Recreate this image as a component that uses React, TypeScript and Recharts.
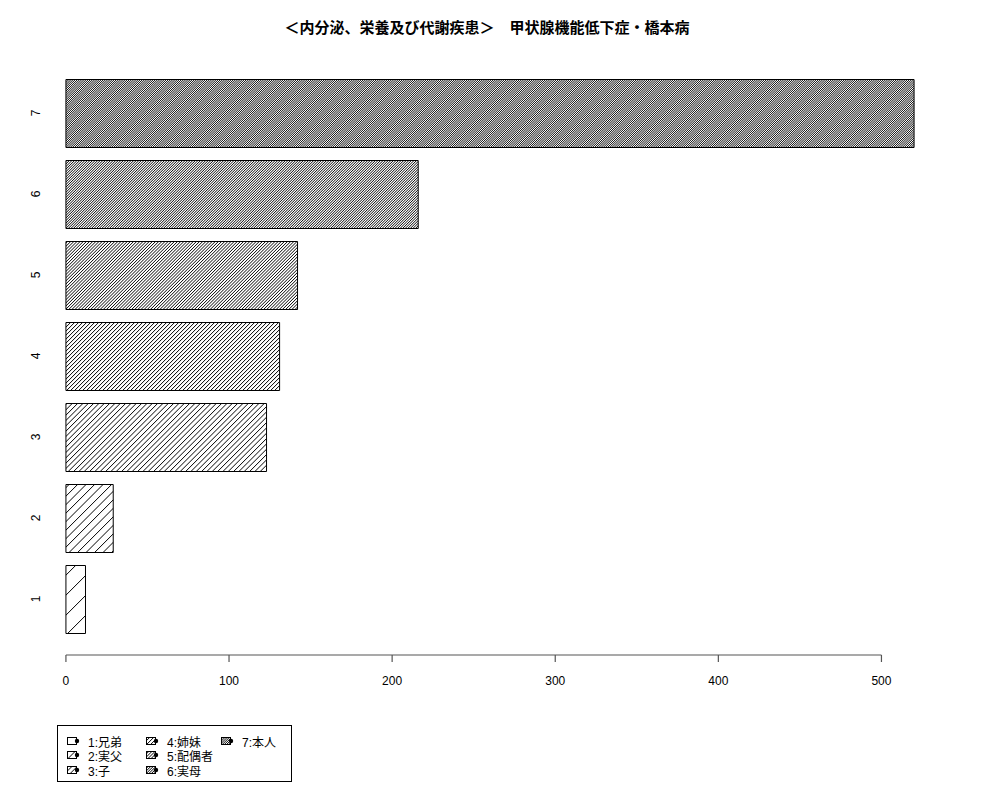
import { BarChart, Bar, XAxis, YAxis, Legend, ReferenceLine, Cell } from "recharts";

const categories = ["1", "2", "3", "4", "5", "6", "7"];
const counts = [12, 29, 123, 131, 142, 216, 520];
const legendLabels = ["1:兄弟", "2:実父", "3:子", "4:姉妹", "5:配偶者", "6:実母", "7:本人"];
// hatch density (lines per inch), as in R's barplot(density = ...)
const densities = [5, 12, 19, 26, 33, 40, 47];
const xTicks = [0, 100, 200, 300, 400, 500];
const title = "＜内分泌、栄養及び代謝疾患＞　甲状腺機能低下症・橋本病";

const data = categories.map((c, i) => ({ name: c, value: counts[i] }));
const maxCount = Math.max(...counts);
const xDomain = [-0.04 * maxCount, 1.04 * maxCount];

const FONT = "'Liberation Sans', Arial, 'Noto Sans CJK JP', sans-serif";
const LINE_W = 1.1; // horizontal width of a hatch line, px
const INK = 0.9;

// integer tile holding k lines, period close to 72*sqrt2/density
function tileFor(density: number) {
  const p = (72 * Math.SQRT2) / density;
  let best = { w: Math.round(p), k: 1, err: Math.abs(Math.round(p) - p) };
  for (let k = 2; k <= 8; k++) {
    const w = Math.round(k * p);
    if (w > 24) break;
    const err = Math.abs(w / k - p);
    if (err < best.err - 0.01) best = { w, k, err };
  }
  return best;
}

// coverage of pixel diagonal t (x+y = t mod w) by k evenly spaced lines, antialiased by hand
function diagShades(w: number, k: number) {
  const period = w / k;
  const shades: number[] = [];
  for (let t = 0; t < w; t++) {
    let cov = 0;
    for (let j = 0; j < k; j++) {
      const a = j * period;
      for (const shift of [0, w, -w]) {
        const s = a + shift;
        cov += Math.max(0, Math.min(t + 1, s + LINE_W) - Math.max(t, s));
      }
    }
    shades.push(Math.min(1, cov));
  }
  return shades;
}

function HatchDefs() {
  return (
    <defs>
      {densities.map((d, i) => {
        const { w, k } = tileFor(d);
        const shades = diagShades(w, k);
        const px: JSX.Element[] = [];
        for (let x = 0; x < w; x++) {
          for (let y = 0; y < w; y++) {
            const c = shades[(x + y) % w];
            if (c <= 0) continue;
            const g = Math.round(255 * (1 - c * INK));
            px.push(<rect key={`${x}-${y}`} x={x} y={y} width={1} height={1} fill={`rgb(${g},${g},${g})`} />);
          }
        }
        return (
          <pattern key={i} id={`hatch${i}`} patternUnits="userSpaceOnUse" x={0} y={0} width={w} height={w}>
            <rect width={w} height={w} fill="#fff" />
            <g shapeRendering="crispEdges">{px}</g>
          </pattern>
        );
      })}
    </defs>
  );
}

function YTick({ y, payload }: any) {
  return (
    <text
      x={40}
      y={y}
      transform={`rotate(-90, 40, ${y})`}
      textAnchor="middle"
      fontSize={12}
      fontFamily={FONT}
      fill="#000"
    >
      {payload.value}
    </text>
  );
}

function LegendBox() {
  const cols = [10, 89, 164];
  const rows = [15, 29, 44];
  return (
    <div
      style={{
        position: "relative",
        width: 235,
        height: 57,
        border: "1px solid #000",
        boxSizing: "border-box",
        background: "#fff",
        fontFamily: FONT,
        fontSize: 12,
        color: "#000",
      }}
    >
      {legendLabels.map((label, i) => {
        const col = Math.floor(i / 3);
        const row = i % 3;
        return (
          <div
            key={label}
            style={{
              position: "absolute",
              left: cols[col] - 1,
              top: rows[row] - 8,
              height: 16,
              display: "flex",
              alignItems: "center",
              whiteSpace: "nowrap",
            }}
          >
            <svg width={14} height={10} style={{ marginRight: 7 }}>
              <rect x={0.5} y={1.5} width={9} height={7} fill={`url(#hatch${i})`} stroke="#000" strokeWidth={1} />
              <circle cx={10} cy={5} r={2.2} fill="#000" />
            </svg>
            <span>{label}</span>
          </div>
        );
      })}
    </div>
  );
}

export default function App() {
  return (
    <div style={{ position: "absolute", left: 0, top: 0, width: 1000, height: 800, background: "#fff" }}>
      <div
        style={{
          position: "absolute",
          left: 487,
          top: 18,
          transform: "translateX(-50%)",
          whiteSpace: "nowrap",
          fontFamily: "'Noto Sans CJK JP', sans-serif",
          fontWeight: "bold",
          fontSize: 15,
          lineHeight: "17px",
          color: "#000",
        }}
      >
        {title}
      </div>
      <BarChart
        width={1000}
        height={800}
        data={data}
        layout="vertical"
        margin={{ top: 57, right: 52, left: 2, bottom: 115 }}
      >
        <HatchDefs />
        <XAxis
          type="number"
          dataKey="value"
          domain={xDomain}
          ticks={xTicks}
          allowDataOverflow
          axisLine={false}
          tickLine={{ stroke: "#555", strokeWidth: 1.2 }}
          tickSize={7}
          tickMargin={14}
          height={30}
          tick={{ fontSize: 12, fill: "#000", fontFamily: FONT }}
        />
        <YAxis
          type="category"
          dataKey="name"
          reversed
          width={30}
          axisLine={false}
          tickLine={false}
          tickSize={0}
          padding={{ top: 15.5, bottom: 15.5 }}
          tick={<YTick />}
        />
        {/* hidden axis spanning the full plot height: its last index is the plot's bottom edge */}
        <YAxis yAxisId="frame" hide />
        <ReferenceLine
          yAxisId="frame"
          segment={[
            { x: xTicks[0], y: categories.length - 1 },
            { x: xTicks[xTicks.length - 1], y: categories.length - 1 },
          ]}
          stroke="#555"
          strokeWidth={1.2}
          ifOverflow="visible"
        />
        <Bar dataKey="value" barSize={68} stroke="#000" strokeWidth={1} isAnimationActive={false}>
          {data.map((d, i) => (
            <Cell key={d.name} fill={`url(#hatch${i})`} />
          ))}
        </Bar>
        <Legend
          layout="vertical"
          align="center"
          verticalAlign="middle"
          wrapperStyle={{ left: 57, top: 725, width: 235, height: 57 }}
          content={() => <LegendBox />}
        />
      </BarChart>
    </div>
  );
}
